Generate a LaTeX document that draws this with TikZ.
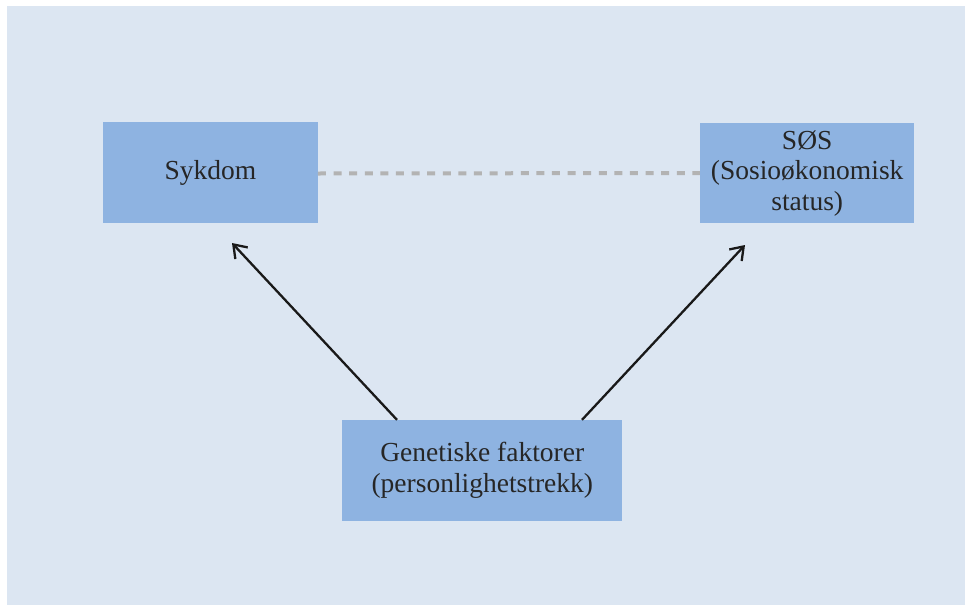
\documentclass[tikz,border=0pt]{standalone}
\usepackage{fontspec}
\setmainfont{Liberation Serif}
\usetikzlibrary{arrows.meta}
\definecolor{bgblue}{HTML}{DCE6F2}
\definecolor{boxblue}{HTML}{8EB3E1}
\definecolor{dashgray}{HTML}{B3B3B3}
\tikzset{
  factor/.style={fill=boxblue, draw=none, inner sep=0pt, align=center,
    font=\fontsize{27.5}{30.5}\selectfont, text=black!85},
  causal/.style={line width=2.3pt, draw=black!90,
    -{Straight Barb[length=12pt, width=17pt, line width=2.3pt]}},
  assoc/.style={line width=4pt, draw=dashgray, dash pattern=on 8pt off 7.6pt}
}
\begin{document}
\begin{tikzpicture}[x=1pt, y=-1pt]
\useasboundingbox (0,0) rectangle (965,605);
\fill[bgblue] (7,6) rectangle (965,605);
\node[factor, minimum width=214.5pt, minimum height=100.5pt] (syk) at (210.5,172.5) {Sykdom};
\node[factor, minimum width=214.5pt, minimum height=100pt] (sos) at (807.2,173.3) {SØS\\(Sosioøkonomisk\\status)};
\node[factor, minimum width=280pt, minimum height=100.5pt] (gen) at (482.3,470.3) {Genetiske faktorer\\(personlighetstrekk)};
\coordinate (tipL) at (232,243);
\coordinate (tipR) at (745,245);
\draw[assoc] (syk.east |- 0,173.5) -- (sos.west |- 0,173);
\draw[causal] (gen.north -| 397,0) -- (tipL);
\draw[causal] (gen.north -| 582,0) -- (tipR);
\end{tikzpicture}
\end{document}
